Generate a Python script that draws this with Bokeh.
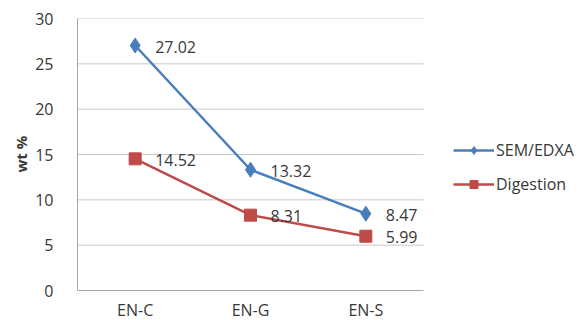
from bokeh.plotting import figure
from bokeh.models import Range1d, FixedTicker, ColumnDataSource, Legend, LegendItem, Title
from bokeh.embed import file_html
from bokeh.resources import INLINE
from bokeh.core.properties import value

# Sample categories and the two measured series (wt %)
categories = ["EN-C", "EN-G", "EN-S"]
sem_edxa = [27.02, 13.32, 8.47]
digestion = [14.52, 8.31, 5.99]
y_ticks = [0, 5, 10, 15, 20, 25, 30]

FONT = "Open Sans"
FS = "16px"
BLUE = "#4a7ebb"
RED = "#be4b48"
TEXT = "#383838"

n = len(categories)
xs = [i + 0.5 for i in range(n)]

# the frame reaches the right and bottom edges: the extra room on the right holds
# the legend, the room below y=0 holds the category names
PLOT_W, FRAME_W = 346, 510
PLOT_H, BELOW = 272, 30
y_max = y_ticks[-1]
p = figure(width=587, height=320, output_backend="svg", toolbar_location=None,
           x_range=Range1d(0, n * FRAME_W / PLOT_W),
           y_range=Range1d(-y_max * BELOW / PLOT_H, y_max),
           min_border_left=77, min_border_right=0, min_border_top=18,
           min_border_bottom=0)
p.outline_line_color = None
p.background_fill_color = "white"
p.border_fill_color = "white"
p.xaxis.visible = False
p.xgrid.grid_line_color = None
p.ygrid.grid_line_color = None

# value axis
p.yaxis.ticker = FixedTicker(ticks=y_ticks)
p.yaxis.bounds = (0, y_max)
p.yaxis.major_tick_line_color = None
p.yaxis.minor_tick_line_color = None
p.yaxis.axis_line_color = "#a6a6a6"
p.yaxis.major_label_text_font = FONT
p.yaxis.major_label_text_font_size = FS
p.yaxis.major_label_text_color = TEXT
p.yaxis.major_label_standoff = 18

# axis title, raised to sit beside the middle of the 0-30 span
p.add_layout(Title(text="wt %", align="left", offset=148, standoff=4,
                   text_font=FONT, text_font_size="15px", text_font_style="bold",
                   text_color=TEXT), "left")

# horizontal gridlines and the category baseline, limited to the category span
grid_y = [t for t in y_ticks if t > 0]
p.segment(x0=[0] * len(grid_y), y0=grid_y, x1=[n] * len(grid_y), y1=grid_y,
          line_color="#c8c8c8", line_width=1, level="underlay")
p.segment(x0=[0], y0=[0], x1=[n], y1=[0], line_color="#a6a6a6", line_width=1,
          level="underlay")

# category names under the baseline
p.text(x=xs, y=[0] * n, text=categories, y_offset=19, text_font=value(FONT),
       text_font_size=FS, text_color=TEXT, text_align="center",
       text_baseline="middle")

src_a = ColumnDataSource(dict(x=xs, y=sem_edxa, t=[f"{v:.2f}" for v in sem_edxa]))
src_b = ColumnDataSource(dict(x=xs, y=digestion, t=[f"{v:.2f}" for v in digestion]))

la = p.line("x", "y", source=src_a, line_color=BLUE, line_width=2.5)
ma = p.scatter("x", "y", source=src_a, marker="diamond", size=15,
               fill_color=BLUE, line_color=BLUE)
lb = p.line("x", "y", source=src_b, line_color=RED, line_width=2.5)
mb = p.scatter("x", "y", source=src_b, marker="square", size=12,
               fill_color=RED, line_color=RED)

for src in (src_a, src_b):
    p.text("x", "y", text="t", source=src, x_offset=20, y_offset=1,
           text_font=value(FONT), text_font_size=FS, text_color=TEXT,
           text_baseline="middle", text_align="left")

legend = Legend(items=[LegendItem(label="SEM/EDXA", renderers=[la, ma]),
                       LegendItem(label="Digestion", renderers=[lb, mb])],
                location=(376, 125), orientation="vertical",
                padding=0, margin=0, spacing=12, glyph_width=41, glyph_height=20,
                label_height=20, label_standoff=2, label_text_font=FONT,
                label_text_font_size=FS, label_text_color=TEXT,
                border_line_color=None, background_fill_alpha=0)
p.add_layout(legend)

open("out.html", "w").write(file_html(p, INLINE))
